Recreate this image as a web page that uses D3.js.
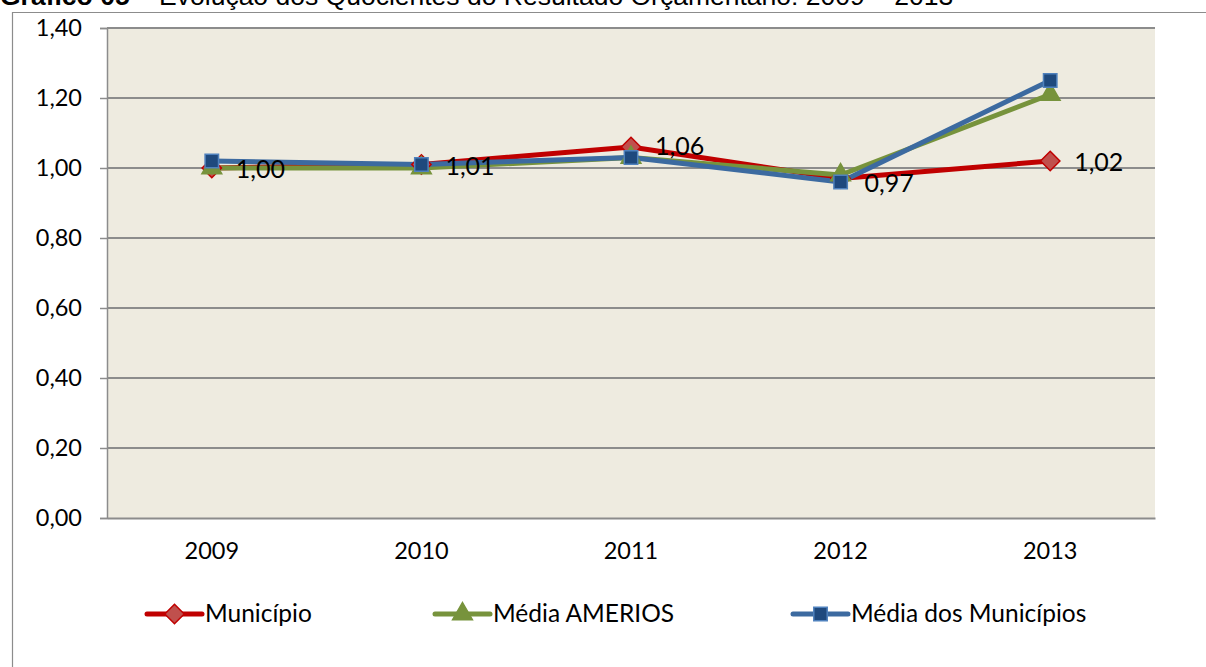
<!DOCTYPE html>
<html><head><meta charset="utf-8">
<script src="https://cdn.jsdelivr.net/npm/d3@7"></script>
<style>body{margin:0;background:#fff;overflow:hidden}svg{display:block}</style>
</head><body>
<svg id="c" width="1206" height="667"></svg>
<script>
const categories = ["2009","2010","2011","2012","2013"];
const municipio = [1.00, 1.01, 1.06, 0.97, 1.02];
const mediaAmerios = [1.00, 1.00, 1.03, 0.98, 1.21];
const mediaMunicipios = [1.02, 1.01, 1.03, 0.96, 1.25];
const yTicks = [0, 0.2, 0.4, 0.6, 0.8, 1.0, 1.2, 1.4];
const seriesNames = ["Município", "Média AMERIOS", "Média dos Municípios"];
const titleBold = "Gráfico 05";
const titleRest = " – Evolução dos Quocientes do Resultado Orçamentário: 2009 – 2013";

const svg = d3.select("#c");
const font = "Lato, 'Open Sans', sans-serif";
const fmt = v => d3.format(".2f")(v).replace(".", ",");

// title (clipped at top as in the reference)
const t = svg.append("text").attr("x", 0).attr("y", 5)
  .attr("font-family", "'Liberation Sans', Arial, sans-serif").attr("font-size", 26.5).attr("fill", "#000");
t.append("tspan").attr("font-weight", "bold").text(titleBold);
t.append("tspan").text(titleRest);

// outer frame
svg.append("path").attr("d", "M12.5,667 V12.5 H1206").attr("fill", "none").attr("stroke", "#8c8c8c").attr("stroke-width", 1.2);

const L = 107, R = 1155, T = 28, B = 518;
const x = d3.scaleBand().domain(categories).range([L, R]);
const y = d3.scaleLinear().domain([0, 1.4]).range([B, T]);

svg.append("rect").attr("x", L).attr("y", T).attr("width", R - L).attr("height", B - T).attr("fill", "#EEEBE0");

// gridlines
svg.append("g").selectAll("line").data(yTicks.filter(d => d > 0)).join("line")
  .attr("x1", L).attr("x2", R).attr("y1", d => y(d)).attr("y2", d => y(d))
  .attr("stroke", "#8c8c8c").attr("stroke-width", 2);

// y axis
const ya = svg.append("g").attr("transform", `translate(${L},0)`)
  .call(d3.axisLeft(y).tickValues(yTicks).tickFormat(fmt).tickSize(7).tickPadding(18));
ya.select(".domain").attr("stroke", "#8c8c8c").attr("stroke-width", 1.5);
ya.selectAll(".tick line").attr("stroke", "#8c8c8c").attr("stroke-width", 1.5);
ya.selectAll("text").attr("font-family", font).attr("font-size", 23.5).attr("fill", "#000");

// x axis
const xa = svg.append("g").attr("transform", `translate(0,${B})`)
  .call(d3.axisBottom(x).tickSize(0).tickPadding(24));
xa.select(".domain").attr("stroke", "#8c8c8c").attr("stroke-width", 2);
xa.selectAll("text").attr("font-family", font).attr("font-size", 23.5).attr("fill", "#000");

const cx = d => x(d) + x.bandwidth() / 2;
const line = d3.line().x((d, i) => cx(categories[i])).y(d => y(d));

const series = [
  {name: seriesNames[0], data: municipio, color: "#C00000", fill: "#C0504D", stroke: "#C00000", shape: "diamond"},
  {name: seriesNames[1], data: mediaAmerios, color: "#77933C", fill: "#77933C", stroke: "#77933C", shape: "triangle"},
  {name: seriesNames[2], data: mediaMunicipios, color: "#3C6AA0", fill: "#1F497D", stroke: "#4F81BD", shape: "square"}
];
const sym = {
  diamond: d3.symbol().type(d3.symbolDiamond2).size(240),
  triangle: d3.symbol().type(d3.symbolTriangle).size(170),
  square: d3.symbol().type(d3.symbolSquare).size(180)
};

series.forEach(s => {
  svg.append("path").datum(s.data).attr("d", line).attr("fill", "none")
    .attr("stroke", s.color).attr("stroke-width", 5).attr("stroke-linejoin", "round");
});
series.forEach(s => {
  svg.append("g").selectAll("path").data(s.data).join("path")
    .attr("transform", (d, i) => `translate(${cx(categories[i])},${y(d)})`)
    .attr("d", sym[s.shape]).attr("fill", s.fill).attr("stroke", s.stroke).attr("stroke-width", 1.5);
});

// data labels for Município
svg.append("g").selectAll("text").data(municipio).join("text")
  .attr("x", (d, i) => cx(categories[i]) + 24).attr("y", (d, i) => y(d) + (i === 3 ? 13 : i === 2 ? 8 : 10))
  .attr("font-family", font).attr("font-size", 25).attr("fill", "#000").text(fmt);

// legend
const legX = [147, 435, 793];
const legY = 614;
series.forEach((s, i) => {
  const g = svg.append("g").attr("transform", `translate(${legX[i]},${legY})`);
  g.append("line").attr("x1", 0).attr("x2", 55).attr("stroke", s.color).attr("stroke-width", 5).attr("stroke-linecap", "round");
  g.append("path").attr("transform", "translate(27.5,0)").attr("d", sym[s.shape]).attr("fill", s.fill).attr("stroke", s.stroke).attr("stroke-width", 1.5);
  g.append("text").attr("x", 58).attr("y", 8).attr("font-family", font).attr("font-size", 24.5).attr("fill", "#000").text(s.name);
});
</script>
</body></html>
